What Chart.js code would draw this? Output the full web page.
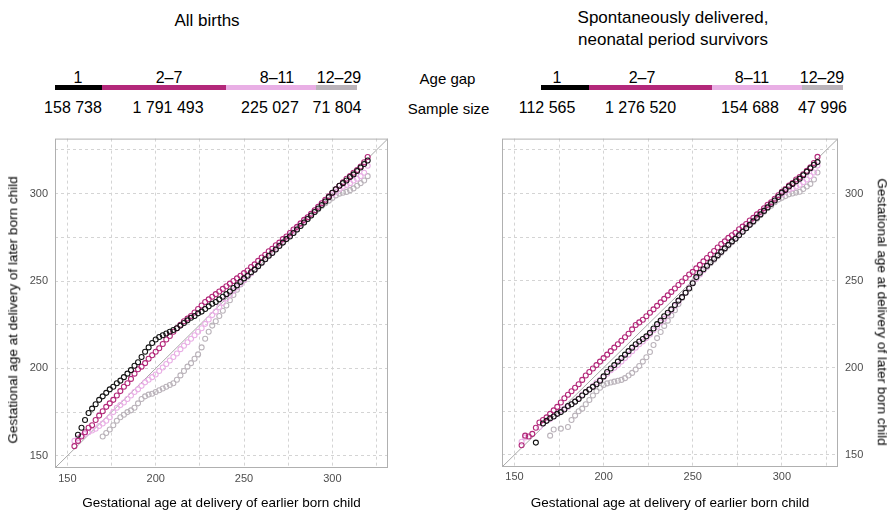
<!DOCTYPE html>
<html><head><meta charset="utf-8">
<script src="https://cdn.jsdelivr.net/npm/chart.js@4/dist/chart.umd.min.js"></script>
<style>
html,body{margin:0;padding:0;background:#fff;}
#wrap{position:relative;width:890px;height:512px;overflow:hidden;font-family:"Liberation Sans",Arial,Helvetica,sans-serif;color:#000;background:#fff;}
.tx{position:absolute;white-space:nowrap;transform:translate(-50%,-50%);line-height:1;}
.seg{position:absolute;height:5px;top:85px;}
canvas{position:absolute;}
</style></head><body><div id="wrap">
<canvas id="cAll" width="445" height="387" style="left:0;top:125px;width:445px;height:387px"></canvas>
<canvas id="cSp" width="445" height="387" style="left:445px;top:125px;width:445px;height:387px"></canvas>
</div>
<script>
// ---------- data ----------
const ageGaps = ['1', '2–7', '8–11', '12–29'];
const sampleAll = ['158 738', '1 791 493', '225 027', '71 804'];
const sampleSpont = ['112 565', '1 276 520', '154 688', '47 996'];
const titleAll = ['All births'];
const titleSpont = ['Spontaneously delivered,', 'neonatal period survivors'];
const xTitle = 'Gestational age at delivery of earlier born child';
const yTitle = 'Gestational age at delivery of later born child';
const labelTicks = [150, 200, 250, 300];
const gridTicks = [150, 175, 200, 225, 250, 275, 300, 325];

// quantile positions (earlier born child, days)
const qx = [154,156,158,160,162,164,166,168,170,172,
            174,176,178,180,182,184,186,188,190,192,
            194,196,198,200,202,204,206,208,210,212,
            214,216,218,220,222,224,226,228,230,232,
            234,236,238,240,242,244,246,248,250,252,
            254,256,258,260,262,264,266,268,270,272,
            274,276,278,280,282,284,286,288,290,292,
            294,296,298,300,302,304,306,308,310,312,
            314,316,318,320];

// All births – later born child quantiles
const allGap1 = [null,162,166,170.5,174.5,177,179.5,182,184,186,
  188,189.5,191.5,193,195,197,199,201.5,203.5,206.5,
  209.5,212,214.5,216.5,218,219,220,221,222,223,
  224.5,226,227.5,229,230,231.5,232.5,234,235.5,237,
  238,239.5,241,242.5,244,246,247.5,249.5,251.5,253,
  255,256.5,258.5,260.5,262.5,264.5,266,268,270,272,
  274,275.5,277.5,279.5,281.5,283.5,285.5,287.5,289.5,291.5,
  293.5,295.5,298,300.5,302.5,304.5,306,307.5,309.5,311,
  313,315,317,319];
const allGap2_7 = [155.5,158.5,161,163.5,166,167.5,170.5,173,175.5,178,
  180,182,184.5,187,189.5,191.5,194,197,199.5,201,
  203,205.5,207.5,209.5,211.5,214,216.5,218.5,221,223,
  225,227,228.5,230,232,234,236,238,239.5,241,
  242.5,244,245.5,247,248.5,250,251.5,253,254.5,256,
  258,259.5,261.5,263.5,265,267,268.5,270.5,272,274,
  275.5,277.5,279.5,281,283,285,286.5,288.5,290.5,292.5,
  294.5,296.5,298.5,300.5,302.5,304.5,306.5,308.5,310,312,
  313.5,315.5,318,321];
const allGap8_11 = [158.5,160,161.5,162.5,163.5,164.5,165.5,167,168.5,170,
  172,175,177.5,179,180.5,182.5,184.5,186.5,188,190,
  192,193.5,195,196.5,198.5,200.5,202.5,204.5,206.5,208.5,
  211,213,215,217,219,221,223,225.5,228,230.5,
  232.5,235,237.5,240,242,244.5,246.5,248.5,250.5,252.5,
  254.5,256.5,258.5,260.5,262.5,264.5,266.5,268.5,270.5,272.5,
  274.5,276.5,278.5,280.5,282.5,284.5,286.5,288.5,290.5,292.5,
  294.5,296,298,299.5,301,302.5,304,305,306,307.5,
  308.5,310,312,316];
const allGap12_29 = [null,null,null,null,null,null,null,null,161,163,
  165,167.5,170,172,173.5,175,176,177.5,180,182.5,
  184,185,185.5,186.5,187.5,188.5,189.5,190.5,191.5,193.5,
  196,198.5,201,203,205.5,208,212,217,221,224.5,
  227,230,233,236,239,242,245,248,250.5,252.5,
  254.5,256.5,258.5,260.5,262.5,264.5,266.5,268.5,270.5,272,
  274,276,277.5,279.5,281.5,283.5,285.5,287.5,289.5,291,
  293,294.5,296,297.5,299,300,300.5,301,302,303,
  304.5,306,307.5,310];

// Spontaneously delivered, neonatal period survivors
const spGap1 = [null,null,null,null,157,null,168,169.5,171,172,
  173.5,174.5,176,178,179,180.5,182,184,186,187.5,
  189,190.5,192.5,195,197.5,199.5,201.5,203.5,205.5,207.5,
  209.5,211.5,213.5,215,216.5,218,220,222.5,225,227,
  229.5,231.5,233.5,236,238.5,240.5,243,245.5,248.5,252,
  254.5,256.5,258.5,260.5,262.5,264.5,266.5,268.5,270.5,272.5,
  274,276,278,280,282,284,286,288,290,292,
  294,296,298,300.5,302,304,305.5,307,308.5,310.5,
  312.5,314.5,316.5,318];
const spGap2_7 = [155.5,161,160.5,162,165.5,168.5,170,171.5,173.5,175.5,
  177.5,180,182.5,184.5,186.5,188.5,190.5,193,195.5,197.5,
  199.5,201.5,203.5,205.5,207.5,209.5,211.5,213.5,215.5,217.5,
  219.5,222,224.5,226,227.5,229.5,231.5,233.5,235.5,237.5,
  239.5,241.5,243.5,245.5,247.5,249.5,251.5,253.5,255,257,
  259,261,263,265,267,269,271,272.5,274.5,276,
  277.5,279.5,281,282.5,284.5,286,288,289.5,291.5,293.5,
  295,297,299,301,302.5,304.5,306,308,309.5,311,
  313,315,317.5,321];
const spGap8_11 = [157.5,160,null,null,null,166,168,169.5,170.5,172,
  174,175.5,176.5,177.5,179,180.5,182.5,184.5,186,187.5,
  189.5,191.5,193,194.5,196.5,198.5,200,201.5,203.5,205.5,
  207.5,209.5,211.5,213.5,215,217,219,221.5,223.5,226,
  228,230.5,233,235.5,238,240.5,243,246,248.5,251,
  253.5,256,258,260.5,262.5,264.5,266.5,268.5,270.5,272.5,
  274.5,276.5,278.5,280.5,282.5,284.5,286.5,288.5,290.5,292.5,
  294.5,296,298,299.5,301,302,303,304,305,306.5,
  308,310,312,316];
const spGap12_29 = [null,null,null,null,null,null,null,null,161,164.5,
  null,165,null,166,170,172.5,175,176.5,179,181.5,
  184,186.5,188.5,190,191,191.5,192,192.5,193,194,
  195.5,197,199,201,203.5,206,209,213,217,220.5,
  224,227,230,233,236.5,240,243,246,249,251.5,
  254,256,258,260,262,264,266,268,270,272,
  274,276,278,280,282,283.5,285.5,287.5,289.5,291.5,
  293,295,296.5,297.5,298.5,299.5,300,300.5,301,302.5,
  304,305.5,308,312];

// ---------- styling / layout ----------
const axMin = 143, axMax = 331.5;
const colors = ['#141414', '#b3287a', '#e9afe5', '#bab3ba'];
const FONT = '"Liberation Sans", Arial, Helvetica, sans-serif';
Chart.defaults.font.family = FONT;

const wrap = document.getElementById('wrap');
function addText(txt, x, y, size, extra) {
  const d = document.createElement('div');
  d.className = 'tx';
  d.textContent = txt;
  d.style.left = x + 'px'; d.style.top = y + 'px'; d.style.fontSize = size + 'px';
  if (extra) Object.assign(d.style, extra);
  wrap.appendChild(d);
}
function addLegend(bounds, labelX, sampleX, samples) {
  for (let i = 0; i < ageGaps.length; i++) {
    const s = document.createElement('div');
    s.className = 'seg';
    s.style.left = bounds[i] + 'px';
    s.style.width = (bounds[i + 1] - bounds[i]) + 'px';
    s.style.background = i === 0 ? '#000' : colors[i];
    wrap.appendChild(s);
    addText(ageGaps[i], labelX[i], 77.5, 16);
    addText(samples[i], sampleX[i], 108, 16);
  }
}
addText(titleAll[0], 207, 19.5, 17);
addText(titleSpont[0], 673, 16.5, 17);
addText(titleSpont[1], 673, 38.5, 17);
addText('Age gap', 447.5, 77.5, 15);
addText('Sample size', 448.5, 108, 15);
addLegend([55, 102, 226, 316, 357], [78, 169, 277, 339], [73, 168, 270, 337], sampleAll);
addLegend([541, 589, 712, 802, 843], [557, 642, 752, 822], [547, 640.5, 750, 822.5], sampleSpont);
// rotated y-axis titles
addText(yTitle, 12.5, 310, 13.5, {transform: 'translate(-50%,-50%) rotate(-90deg)'});
addText(yTitle, 881.5, 312, 13.5, {transform: 'translate(-50%,-50%) rotate(90deg)'});

const pts = ys => qx.map((x, i) => ys[i] === null ? null : {x: x, y: ys[i]}).filter(p => p);

const framePlugin = {
  id: 'frame',
  afterDraw(chart) {
    const {ctx, chartArea: a} = chart;
    ctx.save();
    ctx.strokeStyle = '#b0b0b0';
    ctx.lineWidth = 1;
    ctx.strokeRect(a.left + 0.5, a.top + 0.5, a.right - a.left - 1, a.bottom - a.top - 1);
    ctx.restore();
  }
};

function makeChart(id, series, cfg) {
  const ds = series.map((ys, i) => ({
    type: 'scatter',
    label: ageGaps[i],
    data: pts(ys),
    borderColor: colors[i],
    backgroundColor: 'rgba(0,0,0,0)',
    pointRadius: 2.5,
    pointBorderWidth: 1.1,
    pointHoverRadius: 2.5
  }));
  ds.push({
    type: 'line',
    label: 'diag',
    data: [{x: axMin, y: axMin}, {x: axMax, y: axMax}],
    borderColor: '#a8a8a8',
    borderWidth: 1,
    pointRadius: 0,
    fill: false
  });
  const tickCb = v => labelTicks.includes(v) ? String(v) : '';
  const setTicks = s => { s.ticks = gridTicks.map(v => ({value: v})); };
  const common = {
    type: 'linear', min: axMin, max: axMax,
    afterBuildTicks: setTicks,
    grid: {color: '#d4d4d4', lineWidth: 1, drawTicks: false},
    border: {display: false, dash: [3, 3]},
  };
  return new Chart(document.getElementById(id), {
    type: 'scatter',
    data: {datasets: ds},
    options: {
      responsive: false, animation: false, devicePixelRatio: 1, events: [],
      layout: {padding: cfg.padding},
      plugins: {legend: {display: false}, tooltip: {enabled: false}},
      scales: {
        x: Object.assign({}, common, {
          position: 'bottom',
          afterFit: s => { s.height = cfg.xh; },
          ticks: {padding: cfg.xpad, color: '#4d4d4d', font: {size: 11}, autoSkip: false, maxRotation: 0, callback: tickCb},
          title: {display: true, text: xTitle, color: '#000', font: {size: 13.5}, padding: {top: 0, bottom: 1}}
        }),
        y: Object.assign({}, common, {
          position: cfg.ypos,
          afterFit: s => { s.width = cfg.yw; },
          ticks: {padding: cfg.ypad, color: '#4d4d4d', font: {size: 11}, autoSkip: false, callback: tickCb},
          title: {display: false}
        })
      }
    },
    plugins: [framePlugin]
  });
}

makeChart('cAll', [allGap1, allGap2_7, allGap8_11, allGap12_29],
  {padding: {left: 0, right: 57, top: 10, bottom: 0}, xh: 44, yw: 55, xpad: 4, ypad: 7, ypos: 'left'});
makeChart('cSp', [spGap1, spGap2_7, spGap8_11, spGap12_29],
  {padding: {left: 57, right: 0, top: 6, bottom: 0}, xh: 45, yw: 52, xpad: 3.5, ypad: 7, ypos: 'right'});
</script>
</body></html>
